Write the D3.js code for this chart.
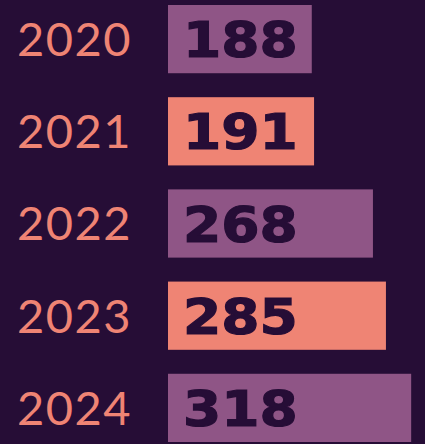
<!DOCTYPE html>
<html>
<head>
<meta charset="utf-8">
<script src="https://cdn.jsdelivr.net/npm/d3@7"></script>
<style>
  html, body { margin: 0; padding: 0; background: #260d36; }
  #chart { width: 425px; height: 444px; }
</style>
</head>
<body>
<div id="chart"></div>
<script>
// Data
const years = ["2020", "2021", "2022", "2023", "2024"];
const counts = [188, 191, 268, 285, 318];
const barColors = ["#8f5586", "#ef8474", "#8f5586", "#ef8474", "#8f5586"];

const width = 425;
const height = 444;

const svg = d3
  .select("#chart")
  .append("svg")
  .attr("width", width)
  .attr("height", height);

svg.append("rect").attr("width", width).attr("height", height).attr("fill", "#260d36");

// Scales
const y = d3.scaleBand().domain(years).range([5, 442]).paddingInner(0.26).paddingOuter(0);
const x = d3.scaleLinear().domain([0, 340]).range([168, 428]);

const rows = years.map((yr, i) => ({ year: yr, value: counts[i], color: barColors[i] }));

// Bars
svg
  .selectAll("rect.bar")
  .data(rows)
  .join("rect")
  .attr("class", "bar")
  .attr("x", x(0))
  .attr("y", (d) => y(d.year))
  .attr("width", (d) => x(d.value) - x(0))
  .attr("height", y.bandwidth())
  .attr("fill", (d) => d.color);

// Year labels
svg
  .selectAll("text.year")
  .data(rows)
  .join("text")
  .attr("class", "year")
  .attr("x", 17)
  .attr("y", (d) => y(d.year) + y.bandwidth() / 2)
  .attr("dy", "0.36em")
  .attr("fill", "#ef8474")
  .attr("font-family", "Lato, 'Open Sans', sans-serif")
  .attr("font-weight", 400)
  .attr("font-size", "47px")
  .attr("letter-spacing", "1.5px")
  .text((d) => d.year);

// Value labels, wide heavy look via horizontal stretch
svg
  .selectAll("text.val")
  .data(rows)
  .join("text")
  .attr("class", "val")
  .attr("transform", (d) => `translate(${x(0) + 15},${y(d.year) + y.bandwidth() / 2}) scale(1.1,1)`)
  .attr("dy", "0.36em")
  .attr("fill", "#260d36")
  .attr("stroke", "#260d36")
  .attr("stroke-width", 1.2)
  .attr("font-family", "'DejaVu Sans', sans-serif")
  .attr("font-weight", "bold")
  .attr("font-size", "50px")
  .text((d) => d.value);
</script>
</body>
</html>
